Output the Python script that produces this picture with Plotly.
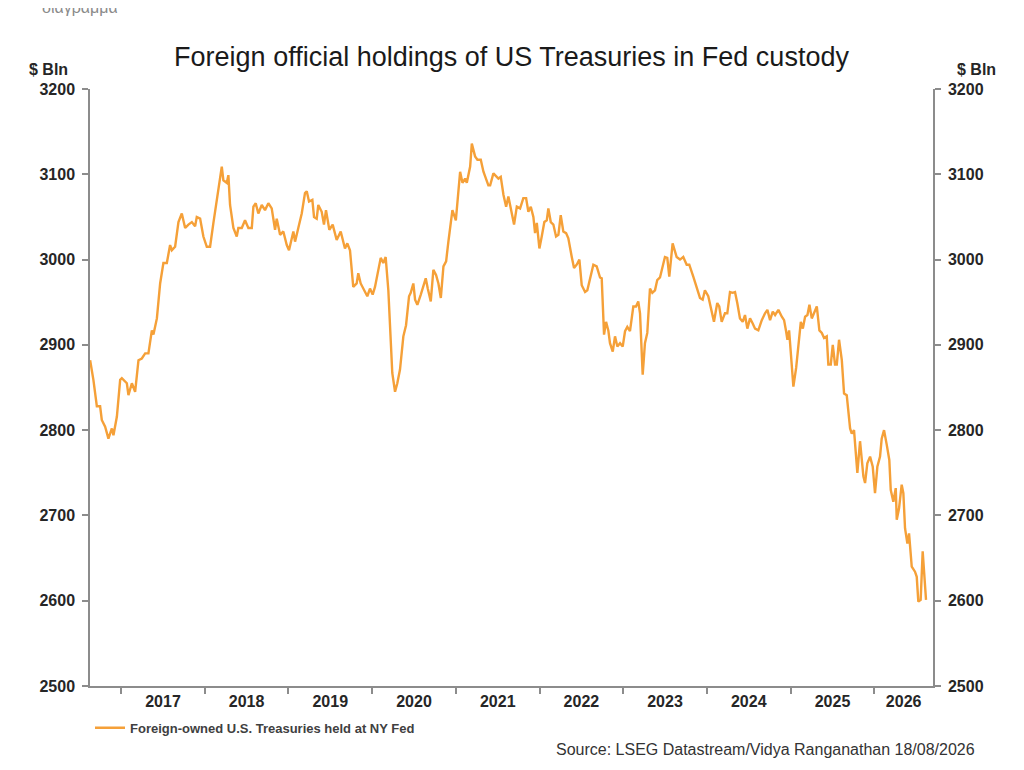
import pandas as pd
import plotly.graph_objects as go

# weekly-ish readings, dates as decimal years, values in $ bln
years_2016_2018 = [2016.630, 2016.669, 2016.710, 2016.749, 2016.769, 2016.809, 2016.848, 2016.889, 2016.908, 2016.949,
                   2016.988, 2017.008, 2017.068, 2017.087, 2017.128, 2017.167, 2017.207, 2017.247, 2017.287, 2017.326,
                   2017.367, 2017.386, 2017.427, 2017.466, 2017.505, 2017.546, 2017.585, 2017.606, 2017.645, 2017.685,
                   2017.725, 2017.765, 2017.804, 2017.845, 2017.884, 2017.904, 2017.944, 2017.983, 2018.024, 2018.063,
                   2018.103, 2018.143, 2018.183, 2018.203, 2018.222, 2018.263, 2018.282, 2018.302, 2018.342, 2018.382,
                   2018.401, 2018.442, 2018.481, 2018.521, 2018.562, 2018.581, 2018.609, 2018.640, 2018.681, 2018.720,
                   2018.760, 2018.800, 2018.840, 2018.860, 2018.900, 2018.939, 2018.980, 2019.007]
values_2016_2018 = [2882, 2859, 2828, 2828, 2812, 2804, 2790, 2802, 2794, 2816,
                    2859, 2861, 2855, 2841, 2855, 2845, 2882, 2884, 2890, 2890,
                    2917, 2912, 2931, 2972, 2996, 2996, 3017, 3011, 3015, 3044,
                    3054, 3037, 3041, 3044, 3039, 3050, 3048, 3027, 3015, 3015,
                    3043, 3070, 3101, 3109, 3093, 3090, 3099, 3064, 3037, 3027,
                    3037, 3037, 3046, 3037, 3037, 3062, 3066, 3054, 3064, 3058,
                    3066, 3060, 3035, 3048, 3029, 3033, 3017, 3011]

years_2019_2021 = [2019.059, 2019.079, 2019.118, 2019.159, 2019.198, 2019.219, 2019.246, 2019.286, 2019.306, 2019.338,
                   2019.357, 2019.398, 2019.425, 2019.449, 2019.489, 2019.529, 2019.577, 2019.625, 2019.676, 2019.704,
                   2019.736, 2019.775, 2019.816, 2019.835, 2019.864, 2019.903, 2019.943, 2019.975, 2020.007, 2020.035,
                   2020.062, 2020.103, 2020.134, 2020.162, 2020.194, 2020.214, 2020.241, 2020.274, 2020.301, 2020.333,
                   2020.373, 2020.405, 2020.441, 2020.461, 2020.492, 2020.513, 2020.540, 2020.581, 2020.612, 2020.640,
                   2020.664, 2020.700, 2020.731, 2020.763, 2020.791, 2020.820, 2020.851, 2020.883, 2020.910, 2020.958,
                   2020.999, 2021.050, 2021.078, 2021.110, 2021.130, 2021.170, 2021.190, 2021.229, 2021.257, 2021.297,
                   2021.329, 2021.388, 2021.409, 2021.448, 2021.508, 2021.536]
values_2019_2021 = [3033, 3021, 3037, 3054, 3078, 3080, 3068, 3070, 3050, 3048,
                    3064, 3056, 3041, 3058, 3035, 3041, 3023, 3033, 3013, 3019,
                    3011, 2968, 2972, 2984, 2972, 2964, 2957, 2966, 2959, 2968,
                    2980, 3002, 2996, 3003, 2964, 2917, 2867, 2845, 2855, 2871,
                    2910, 2923, 2957, 2961, 2972, 2953, 2947, 2959, 2968, 2978,
                    2966, 2951, 2988, 2982, 2972, 2955, 2992, 2998, 3021, 3058,
                    3046, 3103, 3090, 3095, 3090, 3109, 3136, 3121, 3117, 3117,
                    3103, 3087, 3087, 3101, 3095, 3097]

years_2021_2023 = [2021.568, 2021.600, 2021.627, 2021.668, 2021.695, 2021.728, 2021.767, 2021.806, 2021.839, 2021.866,
                   2021.895, 2021.926, 2021.946, 2021.967, 2021.998, 2022.026, 2022.057, 2022.086, 2022.105, 2022.134,
                   2022.165, 2022.197, 2022.225, 2022.253, 2022.284, 2022.317, 2022.344, 2022.385, 2022.412, 2022.444,
                   2022.476, 2022.504, 2022.544, 2022.571, 2022.603, 2022.643, 2022.683, 2022.723, 2022.743, 2022.771,
                   2022.795, 2022.822, 2022.842, 2022.875, 2022.902, 2022.930, 2022.962, 2022.994, 2023.022, 2023.049,
                   2023.081, 2023.121, 2023.153, 2023.180, 2023.201, 2023.233, 2023.260, 2023.288, 2023.320, 2023.348,
                   2023.380, 2023.407, 2023.440, 2023.467, 2023.499, 2023.527, 2023.551, 2023.591, 2023.619, 2023.639,
                   2023.679, 2023.718, 2023.759, 2023.790]
values_2021_2023 = [3076, 3062, 3074, 3056, 3041, 3062, 3060, 3072, 3072, 3056,
                    3062, 3050, 3031, 3043, 3013, 3027, 3044, 3046, 3060, 3044,
                    3041, 3027, 3029, 3052, 3033, 3031, 3025, 3003, 2990, 2994,
                    3000, 2970, 2962, 2964, 2978, 2994, 2992, 2979, 2978, 2912,
                    2927, 2917, 2902, 2892, 2910, 2898, 2902, 2898, 2916, 2921,
                    2916, 2945, 2945, 2951, 2937, 2865, 2902, 2914, 2966, 2961,
                    2964, 2976, 2979, 2990, 3003, 3002, 2980, 3019, 3011, 3003,
                    3000, 3003, 2994, 2994]

years_2023_2025 = [2023.838, 2023.878, 2023.918, 2023.950, 2023.977, 2024.017, 2024.057, 2024.085, 2024.124, 2024.148,
                   2024.177, 2024.216, 2024.244, 2024.276, 2024.308, 2024.336, 2024.363, 2024.395, 2024.428, 2024.455,
                   2024.483, 2024.515, 2024.547, 2024.575, 2024.614, 2024.655, 2024.694, 2024.722, 2024.754, 2024.786,
                   2024.814, 2024.853, 2024.894, 2024.921, 2024.945, 2024.961, 2024.981, 2025.005, 2025.032, 2025.065,
                   2025.092, 2025.121, 2025.145, 2025.172, 2025.200, 2025.224, 2025.252, 2025.280, 2025.312, 2025.343,
                   2025.372, 2025.399, 2025.431, 2025.450, 2025.479, 2025.503, 2025.530, 2025.551, 2025.578]
values_2023_2025 = [2980, 2966, 2955, 2953, 2964, 2957, 2941, 2927, 2949, 2945,
                    2927, 2937, 2937, 2962, 2961, 2962, 2949, 2931, 2927, 2935,
                    2919, 2931, 2925, 2919, 2917, 2929, 2937, 2941, 2929, 2939,
                    2935, 2941, 2933, 2929, 2916, 2906, 2917, 2884, 2851, 2873,
                    2902, 2927, 2919, 2933, 2935, 2947, 2931, 2937, 2945, 2917,
                    2914, 2908, 2910, 2877, 2877, 2900, 2877, 2877, 2906]

years_2025_2026 = [2025.611, 2025.638, 2025.670, 2025.710, 2025.730, 2025.757, 2025.797, 2025.829, 2025.869, 2025.889,
                   2025.916, 2025.949, 2025.981, 2026.008, 2026.036, 2026.068, 2026.088, 2026.116, 2026.148, 2026.179,
                   2026.196, 2026.227, 2026.256, 2026.268, 2026.295, 2026.327, 2026.347, 2026.367, 2026.395, 2026.415,
                   2026.447, 2026.486, 2026.507, 2026.526, 2026.554, 2026.578, 2026.618]
values_2025_2026 = [2882, 2843, 2841, 2802, 2796, 2800, 2750, 2787, 2746, 2738,
                    2761, 2769, 2757, 2726, 2757, 2769, 2790, 2800, 2783, 2765,
                    2730, 2716, 2732, 2695, 2708, 2736, 2726, 2685, 2667, 2679,
                    2640, 2634, 2628, 2599, 2601, 2658, 2601]

year_labels = ["2017", "2018", "2019", "2020", "2021", "2022", "2023", "2024", "2025", "2026"]

years = years_2016_2018 + years_2019_2021 + years_2021_2023 + years_2023_2025 + years_2025_2026
values = values_2016_2018 + values_2019_2021 + values_2021_2023 + values_2023_2025 + values_2025_2026


def to_date(t):
    y = int(t)
    start = pd.Timestamp(y, 1, 1)
    days = (pd.Timestamp(y + 1, 1, 1) - start).days
    return start + pd.Timedelta(days=(t - y) * days)


dates = [to_date(t) for t in years]

x_start = pd.Timestamp("2016-08-18")
x_end = pd.Timestamp("2026-09-14")

# labels sit in the middle of each year (or of the visible part of the last one)
label_pos = []
for lab in year_labels:
    a = max(pd.Timestamp(int(lab), 1, 1), x_start)
    b = min(pd.Timestamp(int(lab) + 1, 1, 1), x_end)
    label_pos.append(a + (b - a) / 2)
year_starts = [pd.Timestamp(int(lab), 1, 1) for lab in year_labels]

ORANGE = "#F5A038"
AXIS = "#8c8c8c"
TXT = "#262626"
FONT = "Liberation Sans, Arial, sans-serif"
SERIES = "Foreign-owned U.S. Treasuries held at NY Fed"

fig = go.Figure()
fig.add_trace(go.Scatter(x=dates, y=values, mode="lines", name=SERIES,
                         line=dict(color=ORANGE, width=2.4)))
# same series on the right axis, invisible, so the mirrored axis gets drawn
fig.add_trace(go.Scatter(x=dates, y=values, mode="lines", yaxis="y2", showlegend=False,
                         hoverinfo="skip", line=dict(color="rgba(0,0,0,0)", width=0)))

yax = dict(range=[2500, 3200], dtick=100, showgrid=False, zeroline=False,
           showline=True, linecolor=AXIS, linewidth=1.5,
           ticks="outside", ticklen=6, tickcolor=AXIS, tickwidth=1.5, ticklabelstandoff=4,
           tickfont=dict(family=FONT, size=16, color=TXT, weight="bold"))

fig.update_layout(
    width=1024, height=770,
    margin=dict(l=82, r=99, t=81, b=92),
    paper_bgcolor="white", plot_bgcolor="white",
    font=dict(family=FONT, color=TXT),
    title=dict(text="Foreign official holdings of US Treasuries in Fed custody",
               x=(82 + 843 / 2) / 1024, xanchor="center", y=1 - 49 / 770, yanchor="middle",
               font=dict(family=FONT, size=27, color="#1a1a1a")),
    xaxis=dict(type="date", range=[x_start, x_end],
               tickmode="array", tickvals=label_pos, ticktext=year_labels, ticks="",
               minor=dict(tickmode="array", tickvals=year_starts, ticks="outside",
                          ticklen=6, tickcolor=AXIS, tickwidth=1.5, showgrid=False),
               showgrid=False, zeroline=False, showline=True, linecolor=AXIS, linewidth=1.5,
               tickfont=dict(family=FONT, size=16, color=TXT, weight="bold")),
    yaxis=yax,
    yaxis2=dict(yax, overlaying="y", side="right", anchor="x"),
    showlegend=True,
    legend=dict(x=0.0, y=-0.07, xanchor="left", yanchor="middle", orientation="h",
                font=dict(family=FONT, size=13, color="#404040", weight="bold"),
                bgcolor="rgba(0,0,0,0)"),
)

fig.add_annotation(text="$ Bln", xref="paper", yref="paper", x=-0.024, y=1.032,
                   xanchor="right", yanchor="middle", showarrow=False,
                   font=dict(family=FONT, size=16, color=TXT, weight="bold"))
fig.add_annotation(text="$ Bln", xref="paper", yref="paper", x=1.026, y=1.032,
                   xanchor="left", yanchor="middle", showarrow=False,
                   font=dict(family=FONT, size=16, color=TXT, weight="bold"))
fig.add_annotation(text="Source: LSEG Datastream/Vidya Ranganathan 18/08/2026",
                   xref="paper", yref="paper", x=1.052, y=-0.107,
                   xanchor="right", yanchor="middle", showarrow=False,
                   font=dict(family=FONT, size=16, color="#333333"))
# caption of the page above the chart, mostly cropped off in the reference
fig.add_annotation(text="διάγραμμα", xref="paper", yref="paper", x=-0.059, y=1.137,
                   xanchor="left", yanchor="middle", showarrow=False,
                   font=dict(family=FONT, size=16, color="#8a8a8a"))

fig.write_html("out.html")
